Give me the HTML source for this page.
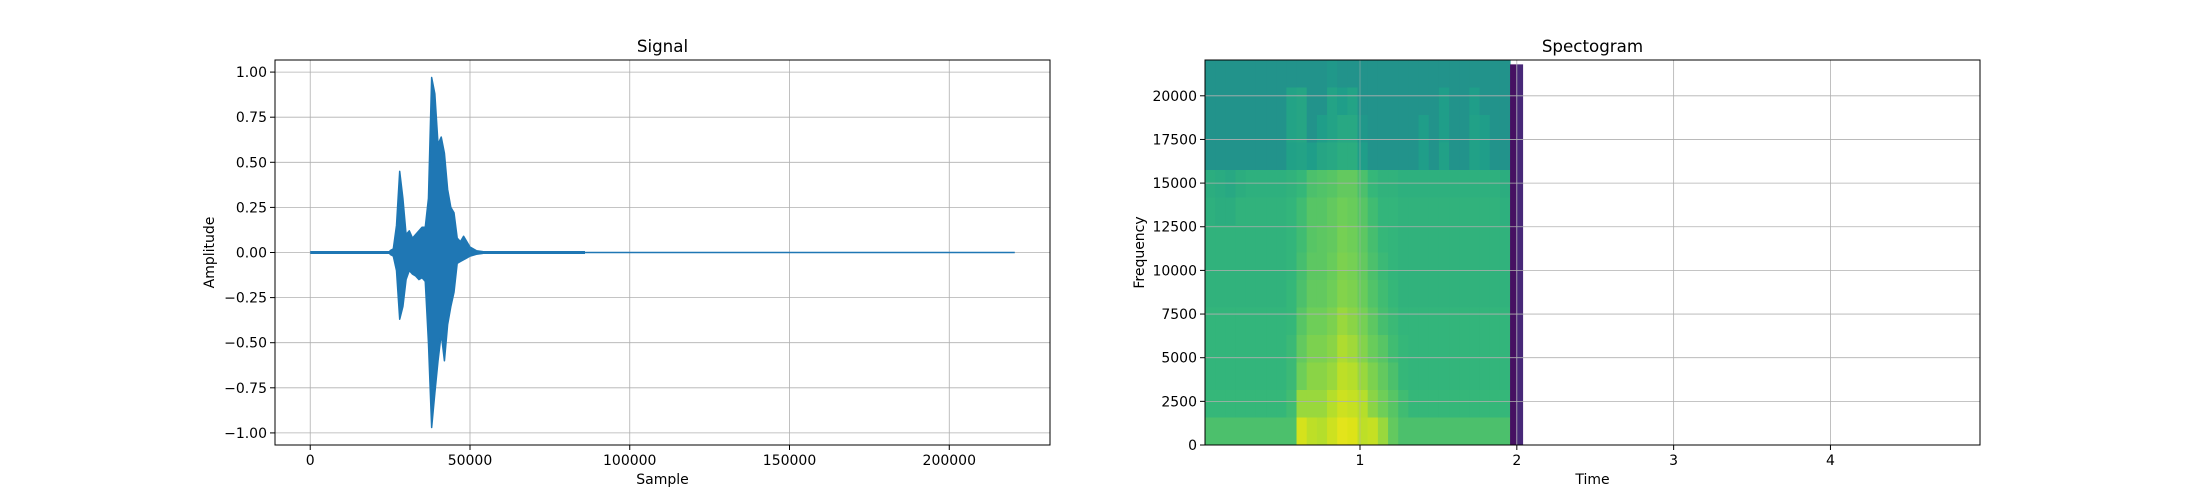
<!DOCTYPE html>
<html><head><meta charset="utf-8"><style>
body{margin:0;background:#fff;}
svg{display:block;font-family:"DejaVu Sans","Liberation Sans",sans-serif;}
</style></head><body>
<svg id="fig" width="2200" height="500" viewBox="0 0 2200 500">
<rect width="2200" height="500" fill="#fff"/>
<g id="left"></g>
<g id="right"></g>
</svg>
<script>
// ---- Signal data ----
const sigTicksX = [0, 50000, 100000, 150000, 200000];
const sigTicksY = [-1.00, -0.75, -0.50, -0.25, 0.00, 0.25, 0.50, 0.75, 1.00];
const envSamples = [25000,26000,27000,28000,29000,30000,31000,32000,33000,34000,35000,36000,37000,38000,39000,40000,41000,42000,43000,44000,45000,46000,47000,48000,49000,50000,52000,54000];
const envUpper = [0.01,0.02,0.15,0.45,0.30,0.10,0.12,0.08,0.10,0.12,0.14,0.14,0.30,0.97,0.88,0.60,0.64,0.55,0.35,0.25,0.22,0.08,0.06,0.09,0.06,0.03,0.01,0.005];
const envLower = [-0.01,-0.02,-0.10,-0.37,-0.30,-0.15,-0.10,-0.12,-0.13,-0.15,-0.14,-0.16,-0.50,-0.97,-0.78,-0.60,-0.45,-0.60,-0.40,-0.30,-0.22,-0.06,-0.05,-0.04,-0.03,-0.02,-0.01,-0.005];
const sigLength = 220500;
const noiseEnd = 86000;

// ---- Spectrogram data ----
const specTicksX = [1, 2, 3, 4];
const specTicksY = [0, 2500, 5000, 7500, 10000, 12500, 15000, 17500, 20000];
const specTimeEnd = 1.957;
const specValues = [
[0.50,0.50,0.50,0.50,0.50,0.50,0.50,0.50,0.50,0.50,0.50,0.50,0.52,0.50,0.50,0.50,0.50,0.50,0.50,0.50,0.50,0.50,0.50,0.50,0.50,0.50,0.50,0.50,0.50,0.50],
[0.50,0.50,0.50,0.50,0.50,0.50,0.50,0.50,0.56,0.57,0.50,0.50,0.56,0.54,0.56,0.50,0.50,0.50,0.50,0.50,0.50,0.50,0.50,0.54,0.50,0.50,0.54,0.50,0.50,0.50],
[0.50,0.50,0.50,0.50,0.50,0.50,0.50,0.50,0.56,0.57,0.50,0.54,0.56,0.58,0.58,0.52,0.50,0.50,0.50,0.50,0.50,0.54,0.50,0.54,0.50,0.50,0.55,0.54,0.50,0.50],
[0.50,0.50,0.50,0.50,0.50,0.50,0.50,0.50,0.55,0.56,0.54,0.57,0.58,0.60,0.60,0.54,0.50,0.50,0.50,0.50,0.50,0.54,0.50,0.55,0.50,0.50,0.55,0.54,0.50,0.50],
[0.60,0.59,0.58,0.60,0.61,0.61,0.61,0.61,0.62,0.64,0.68,0.69,0.70,0.72,0.72,0.68,0.64,0.62,0.62,0.61,0.61,0.61,0.61,0.61,0.61,0.61,0.61,0.61,0.61,0.60],
[0.61,0.60,0.60,0.62,0.62,0.62,0.62,0.62,0.63,0.66,0.70,0.70,0.72,0.74,0.73,0.70,0.66,0.63,0.63,0.62,0.62,0.62,0.62,0.62,0.62,0.62,0.62,0.62,0.62,0.61],
[0.62,0.62,0.62,0.62,0.62,0.62,0.62,0.62,0.63,0.66,0.70,0.71,0.72,0.75,0.74,0.71,0.67,0.64,0.63,0.62,0.62,0.62,0.62,0.62,0.62,0.62,0.62,0.62,0.62,0.62],
[0.62,0.62,0.62,0.62,0.62,0.62,0.62,0.62,0.63,0.67,0.71,0.71,0.73,0.76,0.75,0.72,0.68,0.65,0.63,0.62,0.62,0.62,0.62,0.62,0.62,0.62,0.62,0.62,0.62,0.62],
[0.62,0.62,0.62,0.62,0.62,0.62,0.62,0.62,0.64,0.68,0.72,0.72,0.74,0.77,0.76,0.73,0.69,0.66,0.64,0.62,0.62,0.62,0.62,0.62,0.62,0.62,0.62,0.62,0.62,0.62],
[0.63,0.63,0.63,0.63,0.63,0.63,0.63,0.63,0.64,0.70,0.74,0.74,0.76,0.80,0.78,0.75,0.71,0.67,0.65,0.63,0.63,0.63,0.63,0.63,0.63,0.63,0.63,0.63,0.63,0.63],
[0.63,0.63,0.63,0.63,0.63,0.63,0.63,0.63,0.65,0.72,0.76,0.76,0.78,0.83,0.81,0.77,0.73,0.70,0.66,0.64,0.63,0.63,0.63,0.63,0.63,0.63,0.63,0.63,0.63,0.63],
[0.63,0.63,0.63,0.63,0.63,0.63,0.63,0.63,0.65,0.74,0.78,0.78,0.80,0.86,0.84,0.80,0.76,0.72,0.68,0.64,0.63,0.63,0.63,0.63,0.63,0.63,0.63,0.63,0.63,0.63],
[0.64,0.64,0.64,0.64,0.64,0.64,0.64,0.64,0.66,0.80,0.80,0.80,0.84,0.90,0.88,0.84,0.78,0.74,0.70,0.66,0.64,0.64,0.64,0.64,0.64,0.64,0.64,0.64,0.64,0.64],
[0.68,0.68,0.68,0.68,0.68,0.68,0.68,0.68,0.68,0.92,0.86,0.84,0.90,0.96,0.94,0.86,0.88,0.80,0.72,0.68,0.68,0.68,0.68,0.68,0.68,0.68,0.68,0.68,0.68,0.68]
];
const padTimes = [1.957, 1.995, 2.04];
const padValues = [0.04, 0.1];
const specColorShift = -0.04;

const NS='http://www.w3.org/2000/svg';
function el(tag, attrs, parent, text){const e=document.createElementNS(NS,tag);for(const k in attrs)e.setAttribute(k,attrs[k]);if(text!==undefined)e.textContent=text;parent.appendChild(e);return e;}
const viridisStops=[[0,'#440154'],[0.1,'#482878'],[0.2,'#3e4989'],[0.3,'#31688e'],[0.4,'#26828e'],[0.5,'#1f9e89'],[0.6,'#35b779'],[0.7,'#6ece58'],[0.8,'#b5de2b'],[0.9,'#dde318'],[1,'#fde725']];
function hex(h){return [parseInt(h.slice(1,3),16),parseInt(h.slice(3,5),16),parseInt(h.slice(5,7),16)];}
function viridis(v){v=Math.max(0,Math.min(1,v));for(let i=1;i<viridisStops.length;i++){if(v<=viridisStops[i][0]){const a=viridisStops[i-1],b=viridisStops[i];const t=(v-a[0])/(b[0]-a[0]);const ca=hex(a[1]),cb=hex(b[1]);return 'rgb('+ca.map((c,j)=>Math.round(c+(cb[j]-c)*t)).join(',')+')';}}return '#fde725';}

const axTop=60, axBot=445;
// ---------- LEFT ----------
(function(){
const g=document.getElementById('left');
const L=275,R=1050,xmin=-11025,xmax=231525,ymin=-1.067,ymax=1.067;
const X=v=>L+(v-xmin)/(xmax-xmin)*(R-L);
const Y=v=>axBot-(v-ymin)/(ymax-ymin)*(axBot-axTop);
const grid=el('g',{},g);


sigTicksX.forEach(t=>el('line',{x1:X(t),x2:X(t),y1:axTop,y2:axBot,stroke:'#b0b0b0','stroke-width':0.8},grid));
sigTicksY.forEach(t=>el('line',{x1:L,x2:R,y1:Y(t),y2:Y(t),stroke:'#b0b0b0','stroke-width':0.8},grid));
let b1=el('line',{x1:X(0),x2:X(noiseEnd),y1:Y(0),y2:Y(0),stroke:'#1f77b4','stroke-width':3},g);


let b2=el('line',{x1:X(noiseEnd),x2:X(sigLength),y1:Y(0),y2:Y(0),stroke:'#1f77b4','stroke-width':1.5},g);


let pts=envSamples.map((s,i)=>X(s)+','+Y(envUpper[i]));
for(let i=envSamples.length-1;i>=0;i--)pts.push(X(envSamples[i])+','+Y(envLower[i]));
let p=el('polygon',{points:pts.join(' '),fill:'#1f77b4',stroke:'#1f77b4','stroke-width':1.5,'stroke-linejoin':'round'},g);


el('rect',{x:L,y:axTop,width:R-L,height:axBot-axTop,fill:'none',stroke:'#000','stroke-width':1},g);
sigTicksX.forEach(t=>{el('line',{x1:X(t),x2:X(t),y1:axBot,y2:axBot+5,stroke:'#000'},g);
 const tx=el('text',{x:X(t),y:axBot+20,'text-anchor':'middle','font-size':14},g,String(t));
 
 });
sigTicksY.forEach(t=>{el('line',{x1:L-5,x2:L,y1:Y(t),y2:Y(t),stroke:'#000'},g);
 const tx=el('text',{x:L-8,y:Y(t)+5,'text-anchor':'end','font-size':14},g,t.toFixed(2).replace('-','\u2212'));
 
 });
let t1=el('text',{x:(L+R)/2,y:52,'text-anchor':'middle','font-size':16.7},g,'Signal');


let t2=el('text',{x:(L+R)/2,y:484,'text-anchor':'middle','font-size':14},g,'Sample');


let t3=el('text',{x:0,y:0,'text-anchor':'middle','font-size':14,transform:'translate(214,'+((axTop+axBot)/2)+') rotate(-90)'},g,'Amplitude');


})();
// ---------- RIGHT ----------
(function(){
const g=document.getElementById('right');
const L=1205,R=1980,xmin=0.0116,xmax=4.9536,ymin=0,ymax=22050;
const X=v=>L+(v-xmin)/(xmax-xmin)*(R-L);
const Y=v=>axBot-(v-ymin)/(ymax-ymin)*(axBot-axTop);
const nr=specValues.length,nc=specValues[0].length;
const cw=(specTimeEnd-xmin)/nc, rh=ymax/nr;
const cells=el('g',{},g);


specValues.forEach((row,ri)=>row.forEach((v,ci)=>{
 const x0=X(xmin+ci*cw),x1=X(xmin+(ci+1)*cw),y0=Y(ymax-ri*rh),y1=Y(ymax-(ri+1)*rh);
 const r=el('rect',{x:x0,y:y0,width:x1-x0+0.5,height:y1-y0+0.5,fill:viridis(v+specColorShift)},cells);
 
 
}));
padValues.forEach((v,i)=>{const r=el('rect',{x:X(padTimes[i]),y:Y(21800),width:X(padTimes[i+1])-X(padTimes[i]),height:Y(0)-Y(21800),fill:viridis(v)},g);
 
 });
const grid=el('g',{},g);


specTicksX.forEach(t=>el('line',{x1:X(t),x2:X(t),y1:axTop,y2:axBot,stroke:'#b0b0b0','stroke-width':0.8,'stroke-opacity':t<2?0.6:1},grid));
specTicksY.forEach(t=>el('line',{x1:L,x2:R,y1:Y(t),y2:Y(t),stroke:'#b0b0b0','stroke-width':0.8},grid));
el('rect',{x:L,y:axTop,width:R-L,height:axBot-axTop,fill:'none',stroke:'#000','stroke-width':1},g);
specTicksX.forEach(t=>{el('line',{x1:X(t),x2:X(t),y1:axBot,y2:axBot+5,stroke:'#000'},g);
 const tx=el('text',{x:X(t),y:axBot+20,'text-anchor':'middle','font-size':14},g,String(t));
 
 });
specTicksY.forEach(t=>{el('line',{x1:L-5,x2:L,y1:Y(t),y2:Y(t),stroke:'#000'},g);
 const tx=el('text',{x:L-8,y:Y(t)+5,'text-anchor':'end','font-size':14},g,String(t));
 
 });
let t1=el('text',{x:(L+R)/2,y:52,'text-anchor':'middle','font-size':16.7},g,'Spectogram');


let t2=el('text',{x:(L+R)/2,y:484,'text-anchor':'middle','font-size':14},g,'Time');


let t3=el('text',{x:0,y:0,'text-anchor':'middle','font-size':14,transform:'translate(1144,'+((axTop+axBot)/2)+') rotate(-90)'},g,'Frequency');


})();
</script>
</body></html>
